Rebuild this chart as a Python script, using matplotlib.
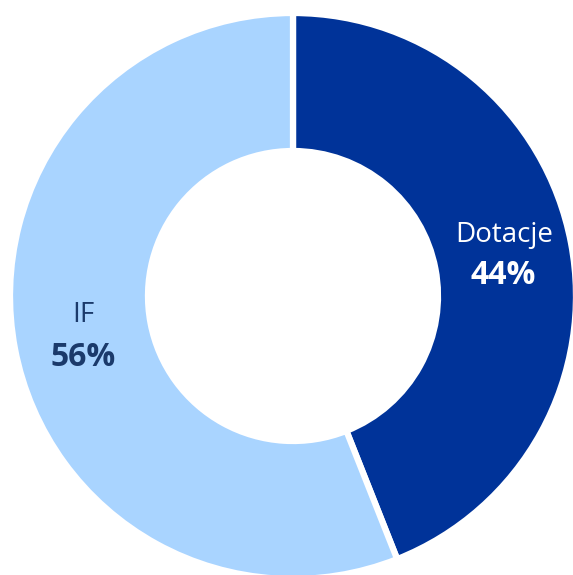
import matplotlib.pyplot as plt

labels = ["Dotacje", "IF"]
shares = [44, 56]
colors = ["#003399", "#A9D4FF"]
text_colors = ["white", "#1B3A6B"]

fig = plt.figure(figsize=(5.73, 5.75), dpi=100)
ax = fig.add_axes([0, 0, 1, 1])

r = 283.0  # outer radius in px
cx, cy = 293.0, 296.0
wedges, _ = ax.pie(shares, colors=colors, startangle=90, counterclock=False,
                   radius=1, wedgeprops=dict(width=1 - 145 / r, edgecolor="white", linewidth=4.5))

ax.set_xlim(-cx / r, (573 - cx) / r)
ax.set_ylim(-(575 - cy) / r, cy / r)
ax.set_aspect("equal")
ax.axis("off")

# label positions (centre of text)
name_pos = [(0.746, 0.216), (-0.742, -0.067)]
pct_pos = [(0.742, 0.074), (-0.742, -0.216)]
for lab, val, tc, npos, ppos in zip(labels, shares, text_colors, name_pos, pct_pos):
    ax.text(*npos, lab, color=tc, fontsize=20, ha="center", va="center", family="Open Sans")
    ax.text(*ppos, f"{val}%", color=tc, fontsize=23, fontweight="bold", ha="center", va="center",
            family="Open Sans")

fig.savefig("out.png", dpi=100)
